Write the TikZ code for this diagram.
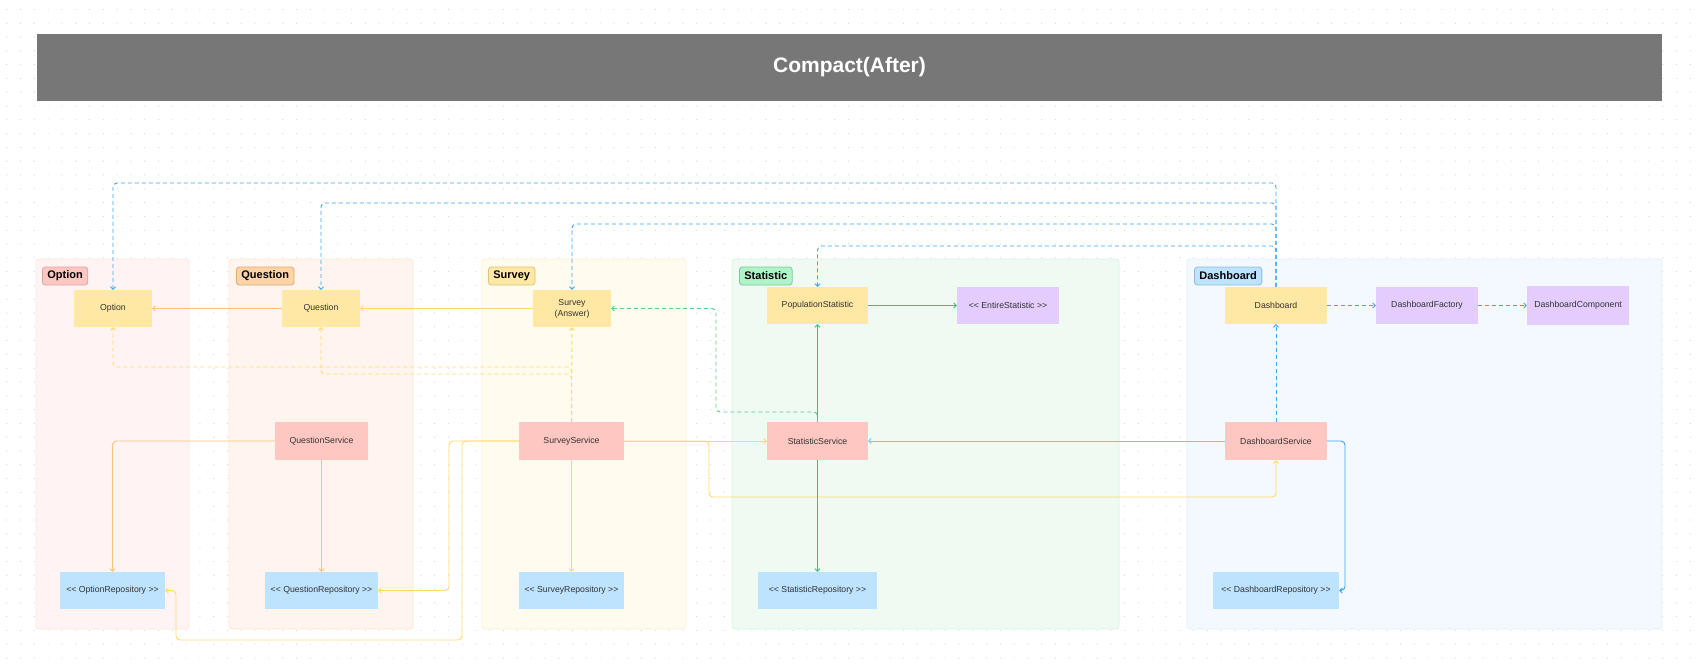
\documentclass[tikz,border=0pt]{standalone}
\usepackage{fontspec}
\setmainfont{Liberation Sans}
\usetikzlibrary{arrows.meta}

\definecolor{titlebg}{HTML}{777777}
\definecolor{txt}{HTML}{333333}
\definecolor{dotc}{HTML}{D4D4D4}
\definecolor{optbg}{HTML}{FFF4F3}\definecolor{optln}{HTML}{FDE4E1}
\definecolor{opttag}{HTML}{FFC7C2}\definecolor{opttagln}{HTML}{E3A29C}
\definecolor{quebg}{HTML}{FFF5EE}\definecolor{queln}{HTML}{FDE6D5}
\definecolor{quetag}{HTML}{FFD3A8}\definecolor{quetagln}{HTML}{DDAA76}
\definecolor{surbg}{HTML}{FFFBEF}\definecolor{surln}{HTML}{FCF0CE}
\definecolor{surtag}{HTML}{FFE8A3}\definecolor{surtagln}{HTML}{DCC27A}
\definecolor{stabg}{HTML}{EFFAF3}\definecolor{staln}{HTML}{DAF3E3}
\definecolor{statag}{HTML}{AFF4C6}\definecolor{statagln}{HTML}{7ECB9A}
\definecolor{dasbg}{HTML}{F3F9FE}\definecolor{dasln}{HTML}{E0EFFB}
\definecolor{dastag}{HTML}{BDE3FF}\definecolor{dastagln}{HTML}{8FBEDF}
\definecolor{entfill}{HTML}{FFE8A3}
\definecolor{svcfill}{HTML}{FFC7C2}
\definecolor{repofill}{HTML}{BDE3FF}
\definecolor{purpfill}{HTML}{E4CCFF}
\definecolor{qcol}{HTML}{F7C27A}
\definecolor{ycol}{HTML}{FFD96E}
\definecolor{gcol}{HTML}{3DBE7F}
\definecolor{gdash}{HTML}{5CCB90}
\definecolor{bcol}{HTML}{3AA5F2}
\definecolor{blight}{HTML}{78C6F7}

\begin{document}
\begin{tikzpicture}[x=1pt,y=-1pt,
    box/.style={minimum height=37pt, inner sep=0pt, text=txt, align=center,
                font=\fontsize{8.7}{11}\selectfont},
    ent/.style={box, fill=entfill},
    svc/.style={box, fill=svcfill, minimum height=38pt},
    repo/.style={box, fill=repofill},
    purp/.style={box, fill=purpfill},
    grp/.style={rounded corners=3pt, line width=0.8pt},
    tag/.style={rounded corners=3pt, line width=0.8pt, anchor=west, inner xsep=5pt,
                inner ysep=0pt, minimum height=18pt, font=\fontsize{11}{13}\selectfont\bfseries},
    link/.style={line width=0.9pt, rounded corners=4pt, -{Straight Barb[length=2.5pt,width=5pt]}},
    dep/.style={link, dash pattern=on 4pt off 3pt}]
            \useasboundingbox (0,0) rectangle (1699,667);
            % dotted canvas
            \foreach \i in {0,...,122}
              \foreach \j in {0,...,47}
                \fill[dotc] (6.7+13.8*\i, 9.4+13.8*\j) circle (0.6pt);
            \node[fill=titlebg, minimum width=1625pt, minimum height=67pt, text=white,
                  font=\fontsize{21}{25}\selectfont\bfseries] (title) at (849.5,67.5) {Compact(After)};
            % groups
            \filldraw[grp, fill=optbg, draw=optln] (36,259) rectangle (189,629);
            \filldraw[grp, fill=quebg, draw=queln] (229,259) rectangle (413,629);
            \filldraw[grp, fill=surbg, draw=surln] (482,259) rectangle (686,629);
            \filldraw[grp, fill=stabg, draw=staln] (732,259) rectangle (1119,629);
            \filldraw[grp, fill=dasbg, draw=dasln] (1187,259) rectangle (1662,629);
            \node[tag, fill=opttag, draw=opttagln] (tOpt) at (42,276) {Option};
            \node[tag, fill=quetag, draw=quetagln] (tQues) at (236,276) {Question};
            \node[tag, fill=surtag, draw=surtagln] (tSurv) at (488,276) {Survey};
            \node[tag, fill=statag, draw=statagln] (tStat) at (739,276) {Statistic};
            \node[tag, fill=dastag, draw=dastagln] (tDash) at (1194,276) {Dashboard};
            % entities
            \node[ent, minimum width=78pt] (Opt) at (113,308.5) {Option};
            \node[ent, minimum width=78pt] (Ques) at (321,308.5) {Question};
            \node[ent, minimum width=78pt] (Surv) at (572,308.5) {Survey\\(Answer)};
            \node[ent, minimum width=101pt] (PopS) at (817.5,305.5) {PopulationStatistic};
            \node[purp, minimum width=102pt] (EntS) at (1008,305.5) {<{}< EntireStatistic >{}>};
            \node[ent, minimum width=102pt] (Dash) at (1276,305.5) {Dashboard};
            \node[purp, minimum width=102pt] (DFac) at (1427,305.5) {DashboardFactory};
            \node[purp, minimum width=102pt, minimum height=39pt] (DCom) at (1578,305.5) {DashboardComponent};
            % services
            \node[svc, minimum width=93pt] (QSvc) at (321.5,441) {QuestionService};
            \node[svc, minimum width=105pt] (SSvc) at (571.5,441) {SurveyService};
            \node[svc, minimum width=101pt] (StSvc) at (817.5,441) {StatisticService};
            \node[svc, minimum width=102pt] (DSvc) at (1276,441) {DashboardService};
            % repositories
            \node[repo, minimum width=105pt] (ORep) at (112.5,590.5) {<{}< OptionRepository >{}>};
            \node[repo, minimum width=113pt] (QRep) at (321.5,590.5) {<{}< QuestionRepository >{}>};
            \node[repo, minimum width=105pt] (SRep) at (571.5,590.5) {<{}< SurveyRepository >{}>};
            \node[repo, minimum width=119pt] (StRep) at (817.5,590.5) {<{}< StatisticRepository >{}>};
            \node[repo, minimum width=126pt] (DRep) at (1276,590.5) {<{}< DashboardRepository >{}>};
            % lanes and turns
            \coordinate (l1) at (0,183);
            \coordinate (l2) at (0,203);
            \coordinate (l3) at (0,224);
            \coordinate (l4) at (0,246);
            \coordinate (l5) at (0,367);
            \coordinate (l6) at (0,374);
            \coordinate (gTurn) at (716,412);
            \coordinate (yTurn) at (709,497);
            \coordinate (qTurn) at (449,441);
            \coordinate (oTurn) at (462,640);
            \coordinate (oBack) at (176,640);
            \coordinate (dTurn) at (1345,441);
            % entity links
            \draw[link, qcol] (Ques) -- (Opt);
            \draw[link, ycol] (Surv) -- (Ques);
            \draw[link, gcol] (PopS) -- (EntS);
            \draw[dep, bcol] (Dash) -- (DFac);
            \draw[dep, bcol] (DFac) -- (DCom);
            % dashboard uses
            \draw[dep, bcol] (Dash.north) |- (Opt.north |- l1) -- (Opt.north);
            \draw[dep, bcol] (Dash.north) |- (Ques.north |- l2) -- (Ques.north);
            \draw[dep, bcol] (Dash.north) |- (Surv.north |- l3) -- (Surv.north);
            \draw[dep, bcol] (Dash.north) |- (PopS.north |- l4) -- (PopS.north);
            \draw[dep, bcol] (DSvc) -- (Dash);
            % survey service
            \draw[dep, ycol] (SSvc) -- (Surv);
            \draw[dep, ycol] (SSvc.north) |- (Ques.south |- l6) -- (Ques.south);
            \draw[dep, ycol] (SSvc.north) |- (Opt.south |- l5) -- (Opt.south);
            \draw[link, ycol] (SSvc) -- (SRep);
            \draw[link, ycol] (SSvc) -- (StSvc);
            \draw[link, ycol] (SSvc.east) -| (yTurn) -| (DSvc.south);
            \draw[link, ycol] (SSvc.west) -- (qTurn) |- (QRep.east);
            \draw[link, ycol] (SSvc.west) -| (oTurn) -- (oBack) |- (ORep.east);
            % question service
            \draw[link, qcol] (QSvc.west) -| (ORep.north);
            \draw[link, qcol] (QSvc) -- (QRep);
            % statistic service
            \draw[link, gcol] (StSvc) -- (PopS);
            \draw[link, gcol] (StSvc) -- (StRep);
            \draw[dep, gdash] (StSvc.north) |- (gTurn) |- (Surv.east);
            % dashboard service
            \draw[link, blight] (DSvc) -- (StSvc);
            \draw[link, bcol] (DSvc.east) -- (dTurn) |- (DRep.east);
        \end{tikzpicture}
\end{document}
